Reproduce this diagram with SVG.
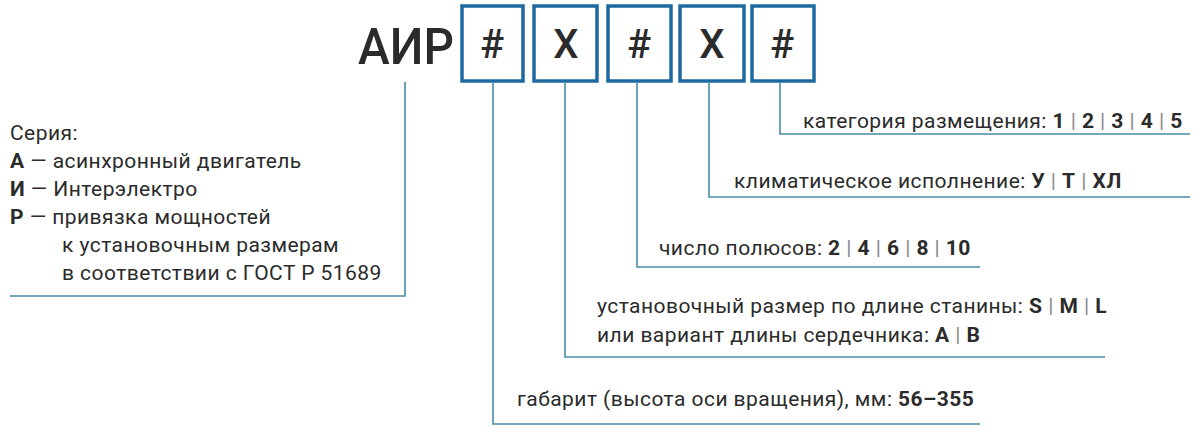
<svg xmlns="http://www.w3.org/2000/svg" width="1200" height="436" viewBox="0 0 1200 436">
<style>
text{font-family:"Roboto","Liberation Sans",sans-serif;fill:#2b2b2b}
.t{font-size:21px;letter-spacing:0.45px}
.b{font-weight:bold}
.s{fill:#888}
.box{fill:#fff;stroke:#1e6aa0;stroke-width:3.5}
.ch{font-size:40px;text-anchor:middle;font-weight:500}
.ln{fill:none;stroke:#4b8aa6;stroke-width:1.6}
</style>
<rect width="1200" height="436" fill="#fff"/>
<g id="title"><text x="358" y="64" font-size="50" font-weight="500" textLength="96" lengthAdjust="spacingAndGlyphs">АИР</text></g>
<g id="box1"><rect class="box" x="462" y="6" width="61" height="75"/><text class="ch" x="492" y="58">#</text></g>
<g id="box2"><rect class="box" x="534" y="6" width="63" height="75"/><text class="ch" x="566" y="58">X</text></g>
<g id="box3"><rect class="box" x="608" y="6" width="63" height="75"/><text class="ch" x="639" y="58">#</text></g>
<g id="box4"><rect class="box" x="680" y="6" width="64" height="75"/><text class="ch" x="712" y="58">X</text></g>
<g id="box5"><rect class="box" x="752" y="6" width="62" height="75"/><text class="ch" x="782" y="58">#</text></g>
<g id="connectors">
<polyline class="ln" points="405,82 405,296 10,296"/>
<polyline class="ln" points="493,83 493,424 980,424"/>
<polyline class="ln" points="565,83 565,357 1105,357"/>
<polyline class="ln" points="637,83 637,267 980,267"/>
<polyline class="ln" points="709,83 709,197 1190,197"/>
<polyline class="ln" points="780,83 780,134 1190,134"/>
</g>
<g id="series">
<text class="t" x="10" y="140">Серия:</text>
<text class="t" x="10" y="168"><tspan class="b">А</tspan> — асинхронный двигатель</text>
<text class="t" x="10" y="196"><tspan class="b">И</tspan> — Интерэлектро</text>
<text class="t" x="10" y="224"><tspan class="b">Р</tspan> — привязка мощностей</text>
<text class="t" x="62" y="252">к установочным размерам</text>
<text class="t" x="62" y="280">в соответствии с ГОСТ Р 51689</text>
</g>
<g id="cat"><text class="t" x="803" y="128">категория размещения: <tspan class="b">1</tspan> <tspan class="s">|</tspan> <tspan class="b">2</tspan> <tspan class="s">|</tspan> <tspan class="b">3</tspan> <tspan class="s">|</tspan> <tspan class="b">4</tspan> <tspan class="s">|</tspan> <tspan class="b">5</tspan></text></g>
<g id="clim"><text class="t" x="734" y="188">климатическое исполнение: <tspan class="b">У</tspan> <tspan class="s">|</tspan> <tspan class="b">Т</tspan> <tspan class="s">|</tspan> <tspan class="b">ХЛ</tspan></text></g>
<g id="poles"><text class="t" x="659" y="255">число полюсов: <tspan class="b">2</tspan> <tspan class="s">|</tspan> <tspan class="b">4</tspan> <tspan class="s">|</tspan> <tspan class="b">6</tspan> <tspan class="s">|</tspan> <tspan class="b">8</tspan> <tspan class="s">|</tspan> <tspan class="b">10</tspan></text></g>
<g id="size">
<text class="t" x="597" y="313">установочный размер по длине станины: <tspan class="b">S</tspan> <tspan class="s">|</tspan> <tspan class="b">M</tspan> <tspan class="s">|</tspan> <tspan class="b">L</tspan></text>
<text class="t" x="597" y="342">или вариант длины сердечника: <tspan class="b">A</tspan> <tspan class="s">|</tspan> <tspan class="b">B</tspan></text>
</g>
<g id="frame"><text class="t" x="517" y="406">габарит (высота оси вращения), мм: <tspan class="b">56–355</tspan></text></g>
</svg>
